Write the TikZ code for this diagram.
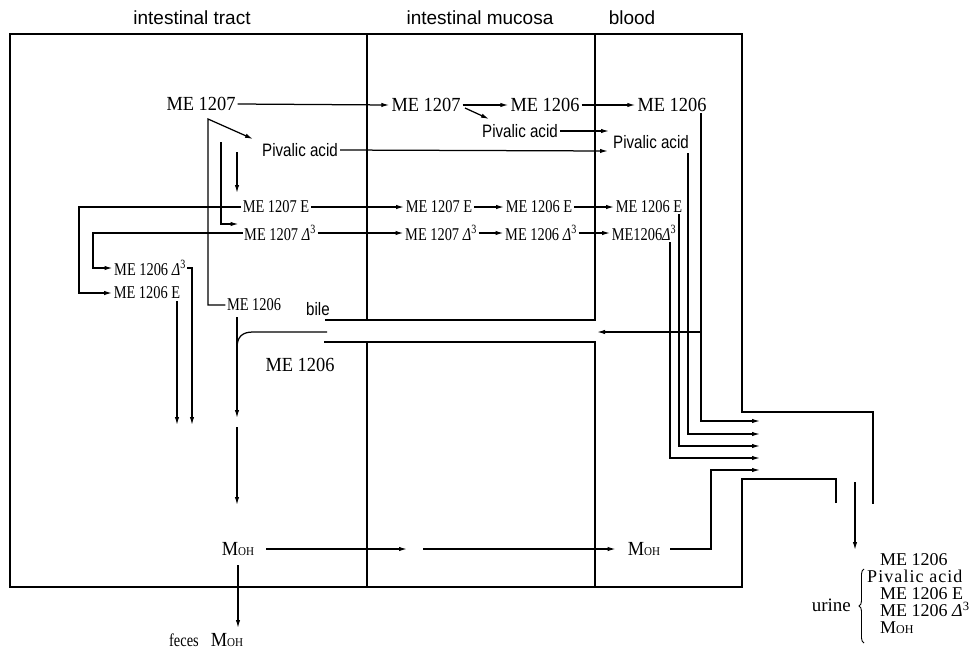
\documentclass[tikz,border=0pt]{standalone}
\usepackage{fontspec}
\setmainfont{Liberation Serif}
\newfontfamily\cfont[FakeStretch=0.92]{Liberation Serif}
\newfontfamily\nfont[FakeStretch=0.8]{Liberation Serif}
\newfontfamily\ufont{Liberation Serif}
\newfontfamily\uwfont[LetterSpace=6]{Liberation Serif}
\newfontfamily\sfont{Liberation Sans}
\newfontfamily\scfont[FakeStretch=0.84]{Liberation Sans}
\usetikzlibrary{arrows.meta,decorations.pathreplacing,calc}
\newcommand{\moh}{M{\fontsize{12}{12}\selectfont OH}}
\newcommand{\dt}{{\itshape Δ}\textsuperscript{3}}
\begin{document}
\begin{tikzpicture}[x=1pt,y=-1pt,
  big/.style={font=\cfont\fontsize{20}{20}\selectfont, inner sep=2pt},
  sml/.style={font=\nfont\fontsize{18}{18}\selectfont, inner sep=1.5pt},
  hdr/.style={font=\sfont\fontsize{19}{19}\selectfont, inner sep=0pt},
  piv/.style={font=\scfont\fontsize{18}{18}\selectfont, inner sep=2pt},
  ulist/.style={font=\ufont\fontsize{18}{18}\selectfont, inner sep=0pt, anchor=west,
    text height=11pt, text depth=0pt},
  box/.style={line width=1.8pt},
  ln/.style={line width=1.25pt},
  arr/.style={line width=1.25pt, -{Latex[length=8pt,width=4.4pt]}}]
\path[use as bounding box] (0,0) rectangle (974,651);

% headers
\node[hdr] (hIT) at (192,18) {intestinal tract};
\node[hdr] (hIM) at (480,18) {intestinal mucosa};
\node[hdr] (hBL) at (632,18) {blood};

% compartments
\draw[box] (836,503) -- (836,479) -- (742,479) -- (742,587) -- (10,587) -- (10,34)
  -- (742,34) -- (742,412) -- (873,412) -- (873,504);
\draw[box] (367,34) -- (367,320);
\draw[box] (325,320) -- (595,320) -- (595,34);
\draw[box] (324,342) -- (595,342) -- (595,587);
\draw[box] (367,342) -- (367,587);

% row 1
\node[big] (a1) at (201,104) {ME 1207};
\node[big] (b1) at (426,105) {ME 1207};
\node[big] (c1) at (545,105) {ME 1206};
\node[big] (d1) at (672,105) {ME 1206};
\node[piv] (pIM) at (520,131) {Pivalic acid};
\node[piv] (pBL) at (651,142) {Pivalic acid};
\node[piv] (pIT) at (300,150) {Pivalic acid};

\draw[arr] (a1.east) -- (b1.west);
\draw[arr] (b1.east) -- (c1.west);
\draw[arr] (c1.east) -- (d1.west);
\coordinate (bd0) at (465,108);
\coordinate (bd1) at (489,119);
\draw[arr] (bd0) -- (bd1);
\coordinate (pin1) at (609,131);
\coordinate (pin2) at (608,151);
\draw[arr] (pIM.east) -- (pin1);
\draw[arr] (pIT.east) -- (pin2);

% E and delta rows
\node[sml] (e1) at (276,207) {ME 1207 E};
\node[sml] (e2) at (439,207) {ME 1207 E};
\node[sml] (e3) at (539,207) {ME 1206 E};
\node[sml] (e4) at (649,207) {ME 1206 E};
\node[sml] (f1) at (280,233) {ME 1207 \dt};
\node[sml] (f2) at (441,233) {ME 1207 \dt};
\node[sml] (f3) at (541,233) {ME 1206 \dt};
\node[sml] (f4) at (644,233) {ME1206\dt};
\draw[arr] (e1.east) -- (e2.west);
\draw[arr] (e2.east) -- (e3.west);
\draw[arr] (e3.east) -- (e4.west);
\draw[arr] (f1.east) -- (f2.west);
\draw[arr] (f2.east) -- (f3.west);
\draw[arr] (f3.east) -- (f4.west);

% left loops
\node[sml] (g1) at (150,268) {ME 1206 \dt};
\node[sml] (g2) at (147,293) {ME 1206 E};
\coordinate (L1) at (79,207);
\coordinate (L2) at (93,233);
\draw[arr] (e1.west) -- (L1) |- (g2.west);
\draw[arr] (f1.west) -- (L2) |- (g1.west);
\coordinate (g2s) at (177,301);
\coordinate (g2e) at (177,425);
\coordinate (g1e) at (192,425);
\draw[arr] (g2s) -- (g2e);
\draw[arr] (g1.east) -| (g1e);

% branches from ME 1207 in tract
\node[sml] (h1) at (254,305) {ME 1206};
\coordinate (V) at (208,119);
\coordinate (Vt) at (253,139);
\draw[arr] (h1.west) -| (V) -- (Vt);
\coordinate (W0) at (221,142);
\draw[arr] (W0) |- ($(f1.west)+(-4,-9)$);
\coordinate (X0) at (237,152);
\coordinate (X1) at (237,193);
\draw[arr] (X0) -- (X1);

% bile / ME 1206 route
\node[piv] (bile) at (318,309) {bile};
\coordinate (M0) at (237,317);
\coordinate (M1) at (237,418);
\draw[arr] (M0) -- (M1);
\coordinate (C0) at (327,332);
\coordinate (C1) at (253,332);
\coordinate (C2) at (237,348);
\draw[ln] (C0) -- (C1) .. controls (242,332) and (237,337) .. (C2);
\node[big] (big1206) at (300,365) {ME 1206};
\coordinate (M2) at (237,427);
\coordinate (M3) at (237,505);
\draw[arr] (M2) -- (M3);

% M_OH row
\node[big] (mIT) at (238,549) {\moh};
\node[big] (mBL) at (644,549) {\moh};
\coordinate (mo1) at (407,549);
\coordinate (mo2) at (423,549);
\draw[arr] ($(mIT.east)+(10,0)$) -- (mo1);
\draw[arr] (mo2) -- ($(mBL.west)+(-10,0)$);
\coordinate (fe0) at (238,565);
\coordinate (fe1) at (238,628);
\draw[arr] (fe0) -- (fe1);
\node[anchor=west, inner sep=0pt, text height=12pt, text depth=0pt] (feces) at (169,640)
  {{\nfont\fontsize{18}{18}\selectfont feces}\hspace{12pt}{\cfont\fontsize{20}{20}\selectfont\moh}};

% blood to kidney
\coordinate (k1) at (760,421);
\coordinate (k2) at (760,434);
\coordinate (k3) at (760,446);
\coordinate (k4) at (760,458);
\coordinate (k5) at (760,470);
\coordinate (d1s) at (701,113);
\coordinate (pBLs) at (688,153);
\coordinate (e4s) at (679,214);
\coordinate (f4s) at (670,242);
\draw[arr] (d1s) |- (k1);
\draw[arr] (pBLs) |- (k2);
\draw[arr] (e4s) |- (k3);
\draw[arr] (f4s) |- (k4);
\coordinate (mr) at (711,549);
\draw[arr] ($(mBL.east)+(8,0)$) -- (mr) |- (k5);
\coordinate (bl0) at (701,332);
\coordinate (bl1) at (597,332);
\draw[arr] (bl0) -- (bl1);

% urine
\coordinate (ur0) at (855,482);
\coordinate (ur1) at (855,550);
\draw[arr] (ur0) -- (ur1);
\node[ulist] (u1) at (880,560) {ME 1206};
\node[ulist, font=\uwfont\fontsize{18}{18}\selectfont] (u2) at (867,577) {Pivalic acid};
\node[ulist] (u3) at (880,594) {ME 1206 E};
\node[ulist] (u4) at (880,611) {ME 1206 \dt};
\node[ulist] (u5) at (880,628) {\moh};
\node[font=\ufont\fontsize{19}{19}\selectfont, inner sep=0pt, anchor=east] (urine) at (851,605) {urine};
\draw[line width=0.9pt, decorate, decoration={brace, amplitude=5pt}] (864,643) -- (864,569);
\end{tikzpicture}
\end{document}
